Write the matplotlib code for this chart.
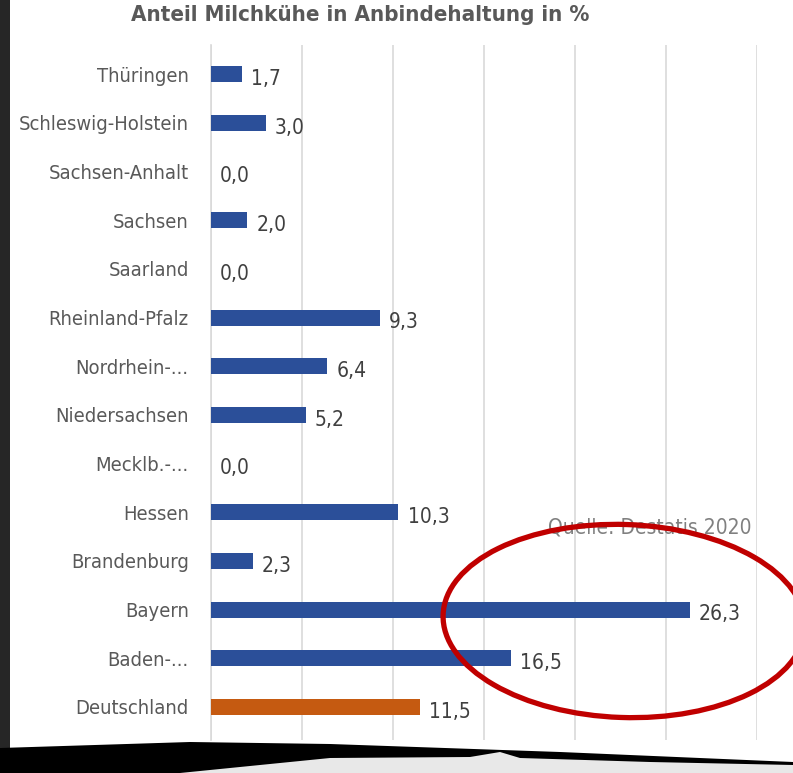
import matplotlib.pyplot as plt
from matplotlib.patches import Ellipse, Polygon
import numpy as np

# data (bottom to top)
laender = ["Deutschland", "Baden-...", "Bayern", "Brandenburg", "Hessen", "Mecklb.-...",
           "Niedersachsen", "Nordrhein-...", "Rheinland-Pfalz", "Saarland", "Sachsen",
           "Sachsen-Anhalt", "Schleswig-Holstein", "Thüringen"]
anteil = [11.5, 16.5, 26.3, 2.3, 10.3, 0.0, 5.2, 6.4, 9.3, 0.0, 2.0, 0.0, 3.0, 1.7]
farben = ["#c55a11"] + ["#2b4f99"] * 13
x_ticks = [0, 5, 10, 15, 20, 25, 30]

plt.rcParams['font.family'] = ['Liberation Sans Narrow', 'DejaVu Sans']
plt.rcParams['font.stretch'] = 'condensed'

W, H = 793, 773
fig = plt.figure(figsize=(W / 100, H / 100), dpi=100)
ax = fig.add_axes([211 / W, 1 - 740 / H, (757 - 211) / W, (740 - 45) / H])

y = np.arange(len(laender))
ax.barh(y, anteil, height=0.33, color=farben, zorder=3)
for yi, v in zip(y, anteil):
    ax.text(v + 0.5, yi - 0.1, f"{v:.1f}".replace(".", ","), va="center", ha="left",
            fontsize=15, color="#404040")

ax.set_xlim(0, 30)
ax.set_ylim(-0.68, 13.6)
ax.set_xticks(x_ticks)
ax.set_xticklabels([])
ax.set_yticks(y)
ax.set_yticklabels(laender, fontsize=14.5, color="#595959")
ax.tick_params(axis="both", length=0)
ax.tick_params(axis="y", pad=16)
ax.grid(axis="x", color="#d9d9d9", lw=1.2, zorder=0)
for s in ["top", "right", "bottom"]:
    ax.spines[s].set_visible(False)
ax.spines["left"].set_color("#d9d9d9")
ax.spines["left"].set_linewidth(1.2)

fig.text(360 / W, 1 - 15 / H, "Anteil Milchkühe in Anbindehaltung in %", ha="center", va="center",
         fontsize=16, fontweight="bold", color="#595959")
fig.text(752 / W, 1 - 527 / H, "Quelle: Destatis 2020", ha="right", va="center",
         fontsize=15, color="#808080", zorder=1)

# red ellipse around Bayern
fig.add_artist(Ellipse((624 / 100, (H - 621) / 100), 3.62, 1.93, angle=-2,
                       transform=fig.dpi_scale_trans, fill=False, ec="#c00000", lw=3.8, zorder=10))

# dark left border
fig.add_artist(Polygon([(0, 0), (10, 0), (10, H), (0, H)], closed=True, transform=None,
                       fc="#262626", ec="none", zorder=11))
# torn bottom edge
fig.add_artist(Polygon([(0, H - 748), (190, H - 742), (330, H - 744), (560, H - 752), (793, H - 762),
                        (793, 0), (0, 0)], closed=True, transform=None,
                       fc="black", ec="none", zorder=12))
fig.add_artist(Polygon([(180, 0), (330, H - 758), (470, H - 757), (500, H - 752), (520, H - 758),
                        (650, H - 762), (793, H - 765), (793, 0)], closed=True, transform=None,
                       fc="#e8e8e8", ec="none", zorder=13))

fig.savefig("out.png", dpi=100)
